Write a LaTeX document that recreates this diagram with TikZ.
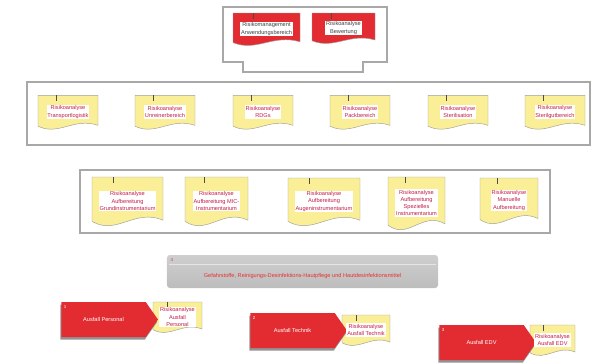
\documentclass[tikz,border=0pt]{standalone}
\usepackage{fontspec}
\setmainfont{Liberation Sans}
\usetikzlibrary{shapes.symbols,shadows,calc,backgrounds}
\definecolor{framegray}{RGB}{168,168,168}
\definecolor{docyellow}{RGB}{250,238,150}
\definecolor{alertred}{RGB}{226,44,50}
\definecolor{labelred}{RGB}{196,28,72}
\definecolor{hazred}{RGB}{232,48,48}
\newcommand{\smallfont}{\fontsize{4.8}{6.2}\selectfont}

\begin{document}
\begin{tikzpicture}[x=0.03cm, y=-0.03cm,
  frame/.style={draw=framegray, line width=2.2pt},
  doclabel/.style={fill=white, inner sep=0.8pt, align=center, font=\smallfont, text=labelred},
  toplabel/.style={doclabel, text=black!75},
  docline/.style={draw=gray!75, line width=0.4pt},
  hazbar/.style={rectangle, rounded corners=2.5pt, minimum width=8.13cm, minimum height=0.99cm, top color=gray!38, bottom color=gray!52},
  failsig/.style={signal, signal to=east, signal pointer angle=110, fill=alertred, minimum width=2.9cm, minimum height=1.05cm, text=white, font=\smallfont, drop shadow={shadow xshift=-0.8pt, shadow yshift=-2.2pt, opacity=0.85}},
  numtag/.style={font=\fontsize{3.8}{4}\selectfont, inner sep=0pt}]

\useasboundingbox (0,0) rectangle (598,363);

% Frames
\draw[frame] (223,7) -- (387,7) -- (387,62) -- (363,62) -- (363,72) -- (243,72) -- (243,62) -- (223,62) -- cycle;
\draw[frame] (27,82) rectangle (590,145);
\draw[frame] (80,170) rectangle (550,233);

% Top: management
\node[toplabel] (mgmt) at (266.5,29) {Risikomanagement\\Anwendungsbereich};
\node[toplabel] (eval) at (343.5,28) {Risikoanalyse\\Bewertung};

% Row 1: areas
\node[doclabel] (trans) at (68,112) {Risikoanalyse\\Transportlogistik};
\node[doclabel] (unrein) at (165,112) {Risikoanalyse\\Unreinerbereich};
\node[doclabel] (rdg) at (263,112) {Risikoanalyse\\RDGs};
\node[doclabel] (pack) at (360,112) {Risikoanalyse\\Packbereich};
\node[doclabel] (steri) at (458,112) {Risikoanalyse\\Sterilisation};
\node[doclabel] (sterilgut) at (555,112) {Risikoanalyse\\Sterilgutbereich};

% Row 2: instruments
\node[doclabel] (grund) at (127.5,201) {Risikoanalyse\\Aufbereitung\\Grundinstrumentarium};
\node[doclabel] (mic) at (216.5,201) {Risikoanalyse\\Aufbereitung MIC-\\Instrumentarium};
\node[doclabel] (augen) at (324,201.5) {Risikoanalyse\\Aufbereitung\\Augeninstrumentarium};
\node[doclabel] (spez) at (416.5,203) {Risikoanalyse\\Aufbereitung\\Spezielles\\Instrumentarium};
\node[doclabel] (manuell) at (509,200.5) {Risikoanalyse\\Manuelle\\Aufbereitung};

% Hazardous substances
\node[hazbar] (haz) at (302.5,271.5) {};
\draw[white!80!gray, line width=0.5pt] ($(haz.north west)+(2,10)$) -- ($(haz.north east)+(-2,10)$);
\node[numtag, text=hazred] (n4) at ($(haz.north west)+(5,5)$) {4};
\node[font=\smallfont, text=hazred] (haztext) at (302.5,276) {Gefahrstoffe, Reinigungs-Desinfektions-Hautpflege und Hautdesinfektionsmittel};

% Failures
\node[failsig] (fpers) at (103.5,319.5) {Ausfall Personal};
\node[failsig] (ftech) at (292.5,330.5) {Ausfall Technik};
\node[failsig] (fedv) at (481.5,342.5) {Ausfall EDV};
\node[numtag, text=white] (n1) at ($(fpers.west)+(4,-13)$) {1};
\node[numtag, text=white] (n2) at ($(ftech.west)+(4,-13)$) {2};
\node[numtag, text=white] (n3) at ($(fedv.west)+(4,-13)$) {3};

\node[doclabel] (rpers) at (177.5,317) {Risikoanalyse\\Ausfall\\Personal};
\node[doclabel] (rtech) at (366,330) {Risikoanalyse\\Ausfall Technik};
\node[doclabel] (redv) at (552.5,340) {Risikoanalyse\\Ausfall EDV};

% Document outlines
\begin{scope}[on background layer]
\foreach \n/\w/\h/\col in {mgmt/33.5/16/alertred, eval/31.5/15/alertred,
    trans/30/16.7/docyellow, unrein/30/16.7/docyellow, rdg/30/16.7/docyellow,
    pack/30/16.7/docyellow, steri/30/16.7/docyellow, sterilgut/30/16.7/docyellow,
    grund/35.5/24/docyellow, mic/31.5/24/docyellow, augen/36/23.5/docyellow,
    spez/28.5/26/docyellow, manuell/29/22.5/docyellow,
    rpers/24.5/15/docyellow, rtech/24/15/docyellow, redv/22.5/15/docyellow}{
  \path (\n.center) coordinate (c);
  \filldraw[docline, fill=\col] ($(c)+(-\w,-\h)$) -- ($(c)+(\w,-\h)$) -- ($(c)+(\w,0.8*\h)$)
    .. controls ($(c)+(0.2*\w,0.3*\h)$) and ($(c)+(-0.3*\w,1.45*\h)$) .. ($(c)+(-\w,0.85*\h)$) -- cycle;
  \draw[docline, draw=gray!60!black] ($(c)+(-0.4*\w,-\h)$) -- ++(0,6);
}
\end{scope}

\end{tikzpicture}
\end{document}
